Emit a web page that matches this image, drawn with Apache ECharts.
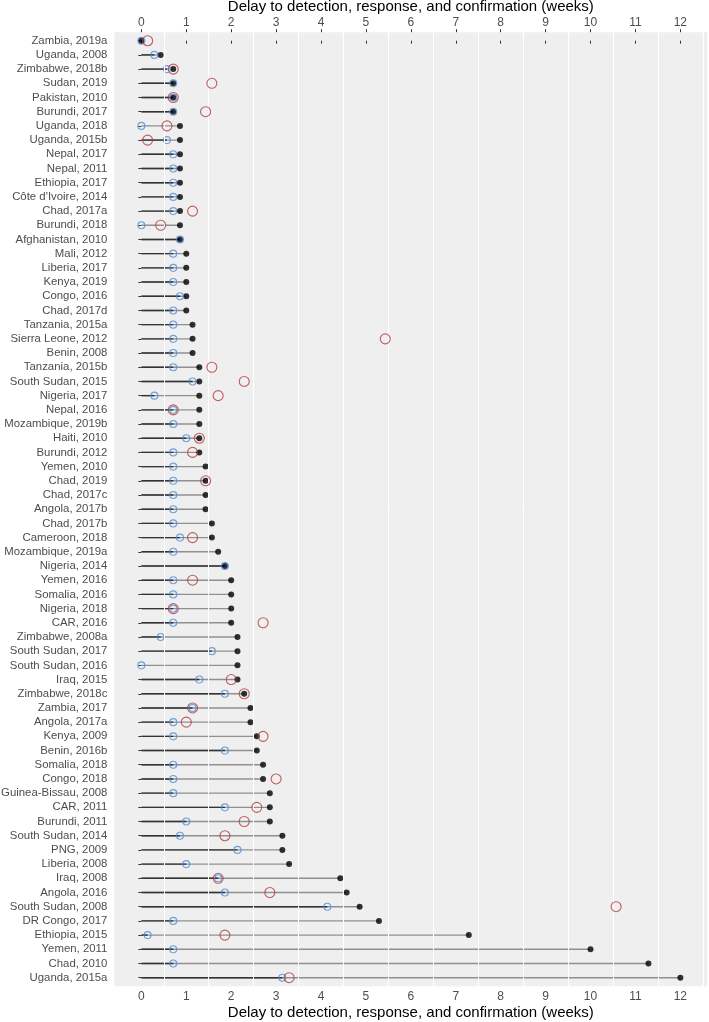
<!DOCTYPE html>
<html>
<head>
<meta charset="utf-8">
<script src="https://cdn.jsdelivr.net/npm/echarts@6/dist/echarts.min.js"></script>
<style>html,body{margin:0;padding:0;background:#fff}#chart{width:709px;height:1022px}</style>
</head>
<body>
<div id="chart"></div>
<script>
// Outbreak labels (top to bottom)
const categories = [
  "Zambia, 2019a","Uganda, 2008","Zimbabwe, 2018b","Sudan, 2019","Pakistan, 2010","Burundi, 2017",
  "Uganda, 2018","Uganda, 2015b","Nepal, 2017","Nepal, 2011","Ethiopia, 2017","Côte d'Ivoire, 2014",
  "Chad, 2017a","Burundi, 2018","Afghanistan, 2010","Mali, 2012","Liberia, 2017","Kenya, 2019",
  "Congo, 2016","Chad, 2017d","Tanzania, 2015a","Sierra Leone, 2012","Benin, 2008","Tanzania, 2015b",
  "South Sudan, 2015","Nigeria, 2017","Nepal, 2016","Mozambique, 2019b","Haiti, 2010","Burundi, 2012",
  "Yemen, 2010","Chad, 2019","Chad, 2017c","Angola, 2017b","Chad, 2017b","Cameroon, 2018",
  "Mozambique, 2019a","Nigeria, 2014","Yemen, 2016","Somalia, 2016","Nigeria, 2018","CAR, 2016",
  "Zimbabwe, 2008a","South Sudan, 2017","South Sudan, 2016","Iraq, 2015","Zimbabwe, 2018c","Zambia, 2017",
  "Angola, 2017a","Kenya, 2009","Benin, 2016b","Somalia, 2018","Congo, 2018","Guinea-Bissau, 2008",
  "CAR, 2011","Burundi, 2011","South Sudan, 2014","PNG, 2009","Liberia, 2008","Iraq, 2008",
  "Angola, 2016","South Sudan, 2008","DR Congo, 2017","Ethiopia, 2015","Yemen, 2011","Chad, 2010",
  "Uganda, 2015a"
];
// Delay to detection (weeks) - blue open circles
const detection = [
  0, 0.29, 0.57, 0.71, 0.71, 0.71,
  0, 0.57, 0.71, 0.71, 0.71, 0.71,
  0.71, 0, 0.86, 0.71, 0.71, 0.71,
  0.86, 0.71, 0.71, 0.71, 0.71, 0.71,
  1.14, 0.29, 0.71, 0.71, 1.0, 0.71,
  0.71, 0.71, 0.71, 0.71, 0.71, 0.86,
  0.71, 1.86, 0.71, 0.71, 0.71, 0.71,
  0.43, 1.57, 0, 1.29, 1.86, 1.14,
  0.71, 0.71, 1.86, 0.71, 0.71, 0.71,
  1.86, 1.0, 0.86, 2.14, 1.0, 1.71,
  1.86, 4.14, 0.71, 0.14, 0.71, 0.71,
  3.14
];
// Delay to confirmation (weeks) - black dots, end of segment
const confirmation = [
  0, 0.43, 0.71, 0.71, 0.71, 0.71,
  0.86, 0.86, 0.86, 0.86, 0.86, 0.86,
  0.86, 0.86, 0.86, 1.0, 1.0, 1.0,
  1.0, 1.0, 1.14, 1.14, 1.14, 1.29,
  1.29, 1.29, 1.29, 1.29, 1.29, 1.29,
  1.43, 1.43, 1.43, 1.43, 1.57, 1.57,
  1.71, 1.86, 2.0, 2.0, 2.0, 2.0,
  2.14, 2.14, 2.14, 2.14, 2.29, 2.43,
  2.43, 2.57, 2.57, 2.71, 2.71, 2.86,
  2.86, 2.86, 3.14, 3.14, 3.29, 4.43,
  4.57, 4.86, 5.29, 7.29, 10.0, 11.29,
  12.0
];
// Delay to response (weeks) - red open circles (null = not reported)
const response = [
  0.14, null, 0.71, 1.57, 0.71, 1.43,
  0.57, 0.14, null, null, null, null,
  1.14, 0.43, null, null, null, null,
  null, null, null, 5.43, null, 1.57,
  2.29, 1.71, 0.71, null, 1.29, 1.14,
  null, 1.43, null, null, null, 1.14,
  null, null, 1.14, null, 0.71, 2.71,
  null, null, null, 2.0, 2.29, 1.14,
  1.0, 2.71, null, null, 3.0, null,
  2.57, 2.29, 1.86, null, null, 1.71,
  2.86, 10.57, null, 1.86, null, null,
  3.29
];
const xTicks = [0,1,2,3,4,5,6,7,8,9,10,11,12];
const minorGrid = [0.5,1.5,2.5,3.5,4.5,5.5,6.5,7.5,8.5,9.5,10.5,11.5,12.5];
const axisTitle = "Delay to detection, response, and confirmation (weeks)";

const FONT = "Liberation Sans, Arial, sans-serif";
const yIdx = categories.map((_, i) => i);

const segData = categories.map((_, i) => [i, detection[i], confirmation[i]]);
const blueData = categories.map((_, i) => [detection[i], i]);
const blackData = categories.map((_, i) => [confirmation[i], i]);
const redData = [];
categories.forEach((_, i) => { if (response[i] !== null) redData.push([response[i], i]); });

function xAxisCfg(pos, gap) {
  return {
    type: 'value', position: pos, min: -0.6, max: 12.6,
    name: axisTitle, nameLocation: 'middle', nameGap: gap, nameMoveOverlap: false,
    nameTextStyle: { fontFamily: FONT, fontSize: 15, color: '#000' },
    axisLine: { show: false },
    axisTick: { show: true, customValues: xTicks, length: 3, lineStyle: { color: '#333', width: 1 } },
    axisLabel: { customValues: xTicks, margin: 4, fontFamily: FONT, fontSize: 12, color: '#4d4d4d' },
    splitLine: { show: false }
  };
}

const chart = echarts.init(document.getElementById('chart'), null, { renderer: 'canvas' });
chart.setOption({
  animation: false,
  backgroundColor: '#fff',
  grid: { left: 114.4, right: 1.7, top: 32.2, bottom: 35.8, show: true, backgroundColor: '#efefef', borderWidth: 0,
    containLabel: false, outerBoundsMode: 'none' },
  xAxis: [xAxisCfg('bottom', 19), xAxisCfg('top', 18)],
  yAxis: {
    type: 'value', inverse: true, min: -0.6, max: 66.6,
    axisLine: { show: false },
    axisTick: { show: true, customValues: yIdx, length: 3, lineStyle: { color: '#333', width: 1 } },
    axisLabel: { customValues: yIdx, margin: 7, fontFamily: FONT, fontSize: 11.4, color: '#4d4d4d',
      formatter: v => categories[Math.round(v)] },
    splitLine: { show: false }
  },
  series: [
    {
      type: 'scatter', data: [], z: 1, silent: true,
      markLine: {
        silent: true, symbol: 'none', animation: false,
        label: { show: false },
        lineStyle: { color: '#ffffff', width: 1, type: 'solid' },
        data: minorGrid.map(v => ({ xAxis: v }))
      }
    },
    {
      type: 'custom', z: 2, data: segData,
      encode: { x: [1, 2], y: 0 },
      renderItem: function (params, api) {
        const i = api.value(0);
        const p0 = api.coord([0, i]);
        const pb = api.coord([api.value(1), i]);
        const pe = api.coord([api.value(2), i]);
        return {
          type: 'group',
          children: [
            { type: 'line', shape: { x1: p0[0], y1: p0[1], x2: pe[0], y2: pe[1] },
              style: { stroke: '#909090', lineWidth: 1.4 } },
            { type: 'line', shape: { x1: p0[0], y1: p0[1], x2: pb[0], y2: pb[1] },
              style: { stroke: '#333333', lineWidth: 1.4 } }
          ]
        };
      }
    },
    {
      type: 'scatter', z: 3, data: blackData, symbol: 'circle', symbolSize: 6,
      itemStyle: { color: '#000' }
    },
    {
      type: 'scatter', z: 4, data: blueData, symbol: 'circle', symbolSize: 7,
      itemStyle: { color: 'rgba(0,0,0,0)', borderColor: '#4a8fdd', borderWidth: 1.1 }
    },
    {
      type: 'scatter', z: 5, data: redData, symbol: 'circle', symbolSize: 10,
      itemStyle: { color: 'rgba(0,0,0,0)', borderColor: '#b5383b', borderWidth: 1.1 }
    }
  ]
});
</script>
</body>
</html>
